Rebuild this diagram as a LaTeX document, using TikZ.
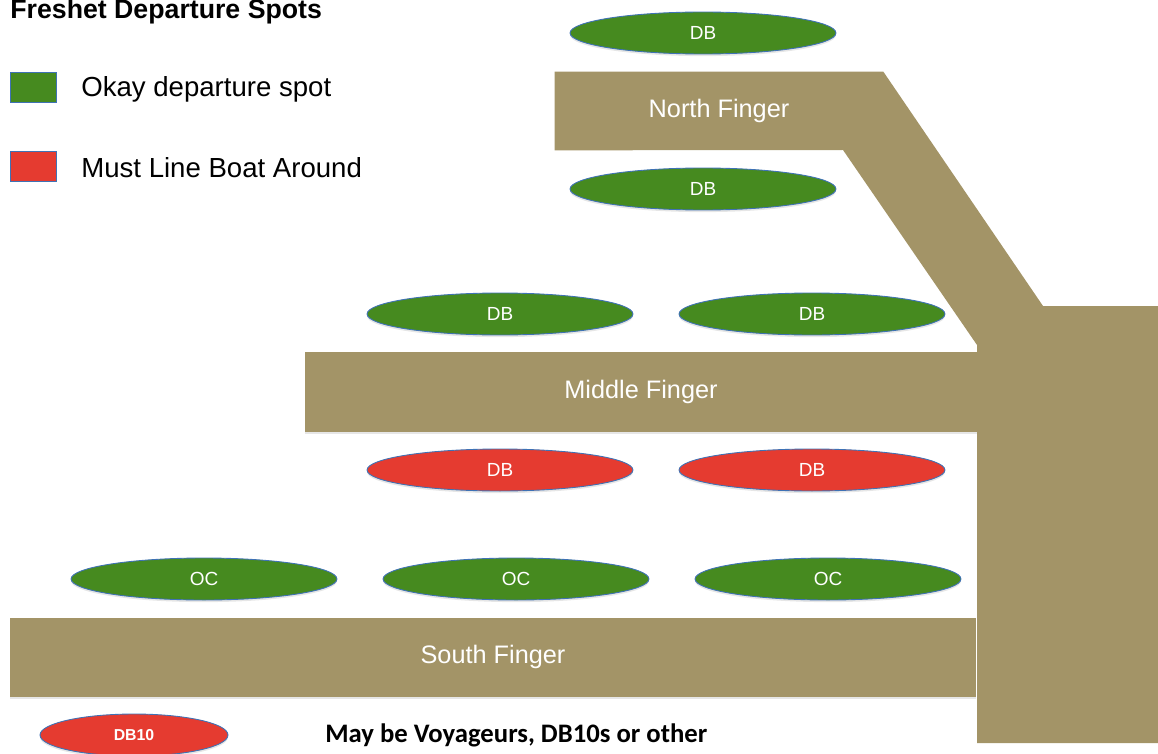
\documentclass[tikz,border=0pt]{standalone}
\usepackage{fontspec}
\setmainfont{Liberation Sans}
\newfontfamily\notefont{Carlito}
\usetikzlibrary{shapes.geometric,positioning,shadows}
\definecolor{dock}{HTML}{A39467}
\definecolor{okgreen}{HTML}{468A1F}
\definecolor{mustred}{HTML}{E53B30}
\definecolor{rim}{HTML}{3F72B5}
\tikzset{
    x=0.02cm, y=-0.02cm,
    finger/.style ={rectangle, fill=dock, inner sep=0pt, text=white,
        font=\fontsize{14.4}{16}\selectfont},
    shade/.style ={drop shadow={shadow xshift=0pt, shadow yshift=-1.2pt, opacity=0.2}},
    spot/.style ={ellipse, draw=rim, line width=0.5pt, inner sep=0pt, shade,
        minimum width=5.32cm, minimum height=0.84cm, text=white,
        font=\fontsize{10.8}{12}\selectfont},
    ok/.style = {spot, fill=okgreen},
    must/.style = {spot, fill=mustred},
    key/.style = {rectangle, draw=rim, line width=0.5pt, inner sep=0pt,
        minimum width=0.92cm, minimum height=0.6cm},
    keytext/.style = {inner sep=0pt, anchor=base west, font=\fontsize{15.7}{18}\selectfont}
}
\begin{document}
\begin{tikzpicture}
    \useasboundingbox (0,0) rectangle (1158,753);

    % legend
    \node[anchor=base west, inner sep=0pt, font=\bfseries\fontsize{15.2}{17}\selectfont] (title) at (10,19) {Freshet Departure Spots};
    \node[key, fill=okgreen] (kok) at (33,87) {};
    \node[keytext] (tok) at (81,97) {Okay departure spot};
    \node[key, fill=mustred] (kmust) at (33,166) {};
    \node[keytext] (tmust) at (81,177) {Must Line Boat Around};

    % docks
    \node[finger, fill=none, minimum width=6.56cm, minimum height=1.56cm] (north) at (719,111) {};
    \fill[dock] (north.north west) -- (north.north east) -- (1043,306) -- (1158,306) -- (1158,743)
        -- (977,743) -- (977,345) -- (843,150) -- (north.south west) -- cycle;
    \node[text=white, font=\fontsize{14.4}{16}\selectfont] at (north) {North Finger};
    \node[finger, shade, minimum width=13.44cm, minimum height=1.6cm] (middle) at (641,392) {Middle Finger};
    \node[finger, shade, minimum width=19.34cm, minimum height=1.58cm] (south) at (493,657) {South Finger};

    % departure spots
    \node[ok] (n1) at (703,33) {DB};
    \node[ok] (n2) at (703,189) {DB};
    \node[ok] (m1) at (500,314) {DB};
    \node[ok] (m2) at (812,314) {DB};
    \node[must] (m3) at (500,470) {DB};
    \node[must] (m4) at (812,470) {DB};
    \node[ok] (s1) at (204,579) {OC};
    \node[ok] (s2) at (516,579) {OC};
    \node[ok] (s3) at (828,579) {OC};
    \node[must, minimum width=3.76cm, font=\bfseries\fontsize{9}{11}\selectfont] (db10) at (134,735) {DB10};
    \node[anchor=west, inner sep=0pt, font=\notefont\bfseries\fontsize{15.2}{17}\selectfont] (note) at (325,735) {May be Voyageurs, DB10s or other};
\end{tikzpicture}
\end{document}
